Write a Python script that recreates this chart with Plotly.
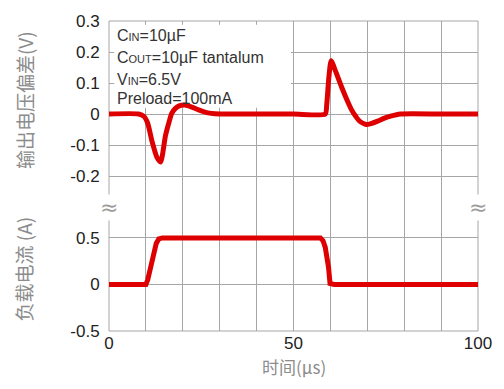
import plotly.graph_objects as go

# Output voltage deviation (V) vs time (us)
v_time = [0, 8.0, 9.5, 10.5, 11.7, 13.0, 14.0, 15.3, 16.3, 17.0, 18.0, 19.0, 20.6, 22.5, 24.1, 26.0, 27.7, 30, 40, 50, 58.6,
          59.0, 59.6, 60.2, 61.5, 63.0, 64.5, 65.7, 67.0, 67.9, 69.7, 71.0, 72.8, 74.5, 76.3, 79.0, 90, 100]
v_dev = [0, 0, -0.008, -0.03, -0.09, -0.14, -0.155, -0.07, -0.025, 0.002, 0.018, 0.026, 0.029, 0.022, 0.014, 0.006, 0.002, 0, 0, 0, 0,
         0.03, 0.12, 0.172, 0.135, 0.088, 0.045, 0.014, -0.01, -0.023, -0.034, -0.031, -0.023, -0.014, -0.007, 0, 0, 0]

# Load current (A) vs time (us)
i_time = [0, 10.0, 10.5, 11.2, 12.0, 12.8, 13.5, 14.5, 40, 57.3, 58.0, 58.6, 59.5, 59.9, 61, 80, 100]
i_load = [0, 0, 0.05, 0.17, 0.3, 0.44, 0.49, 0.5, 0.5, 0.5, 0.47, 0.40, 0.18, 0.01, 0, 0, 0]

x_ticks = [0, 50, 100]
x_grid = [0, 10, 20, 30, 40, 50, 60, 70, 80, 90, 100]
v_ticks = [0.3, 0.2, 0.1, 0, -0.1, -0.2]
v_ticklabels = ["0.3", "0.2", "0.1", "0", "-0.1", "-0.2"]
i_ticks = [0.5, 0, -0.5]
i_ticklabels = ["0.5", "0", "-0.5"]

RED = "rgb(222,0,0)"
GRID = "#a6a6a6"
TICKFONT = dict(family="Liberation Sans, Arial", size=17, color="#222")
TITLEFONT = dict(family="Noto Sans CJK SC", size=19, color="#8c8c8c")

fig = go.Figure()
fig.add_trace(go.Scatter(x=v_time, y=v_dev, mode="lines", xaxis="x", yaxis="y",
                         line=dict(color=RED, width=5, shape="spline", smoothing=0.6), showlegend=False))
fig.add_trace(go.Scatter(x=i_time, y=i_load, mode="lines", xaxis="x", yaxis="y2",
                         line=dict(color=RED, width=5), showlegend=False))

fig.update_layout(
    width=504, height=389,
    margin=dict(l=109, r=18, t=18, b=58),
    paper_bgcolor="white", plot_bgcolor="rgba(0,0,0,0)",
    xaxis=dict(range=[0, 100], anchor="y2", tickvals=x_grid,
               ticktext=["0", "", "", "", "", "50", "", "", "", "", "100"],
               showgrid=True, gridcolor=GRID, gridwidth=1, zeroline=False,
               showline=False, ticks="", tickfont=TICKFONT),
    yaxis=dict(domain=[0.35, 1.0], range=[-0.35, 0.3], tickvals=v_ticks, ticktext=v_ticklabels,
               showgrid=True, gridcolor=GRID, gridwidth=1, zeroline=False,
               ticks="outside", ticklen=5, tickcolor="rgba(0,0,0,0)", tickfont=TICKFONT),
    yaxis2=dict(domain=[0.0, 0.4505], range=[-0.5, 1.0], anchor="x", tickvals=i_ticks, ticktext=i_ticklabels,
                showgrid=True, gridcolor=GRID, gridwidth=1, zeroline=False,
                ticks="outside", ticklen=5, tickcolor="rgba(0,0,0,0)", tickfont=TICKFONT),
)

# outer frame
fig.add_shape(type="rect", xref="paper", yref="paper", x0=0, x1=1, y0=0, y1=1,
              line=dict(color=GRID, width=1), layer="below")
# white background behind the condition text
fig.add_shape(type="rect", xref="x", yref="y", x0=1.4, x1=49.3, y0=0.02, y1=0.288,
              fillcolor="white", line=dict(width=0), layer="between")

small = "<span style='font-size:11px'>{}</span>"
cond_lines = [
    "C" + small.format("IN") + "=10µF",
    "C" + small.format("OUT") + "=10µF tantalum",
    "V" + small.format("IN") + "=6.5V",
    "Preload=100mA",
]
cond_y = [0.252, 0.182, 0.112, 0.049]
for t, yy in zip(cond_lines, cond_y):
    fig.add_annotation(xref="x", yref="y", x=1.6, y=yy, text=t, showarrow=False,
                       xanchor="left", yanchor="middle",
                       font=dict(family="Liberation Sans, Arial", size=16, color="#333"))

# axis titles
fig.add_annotation(xref="paper", yref="paper", x=(22 - 109) / 377, y=(331 - 98) / 313,
                   text="输出电压偏差(V)", textangle=-90, showarrow=False,
                   xanchor="center", yanchor="middle", font=TITLEFONT)
fig.add_annotation(xref="paper", yref="paper", x=(22 - 109) / 377, y=(331 - 268) / 313,
                   text="负载电流 (A)", textangle=-90, showarrow=False,
                   xanchor="center", yanchor="middle", font=TITLEFONT)
fig.add_annotation(xref="paper", yref="paper", x=0.5, y=(331 - 367) / 313,
                   text="时间(µs)", showarrow=False, xanchor="center", yanchor="middle",
                   font=dict(family="Noto Sans CJK SC", size=17, color="#8c8c8c"))

# axis-break marks
for xp in [0, 1]:
    fig.add_annotation(xref="paper", yref="paper", x=xp, y=(331 - 206) / 313, text="≈",
                       showarrow=False, xanchor="center", yanchor="middle", bgcolor="white",
                       borderpad=0, font=dict(family="DejaVu Sans", size=22, color="#9a9a9a"))

fig.write_html("out.html")
